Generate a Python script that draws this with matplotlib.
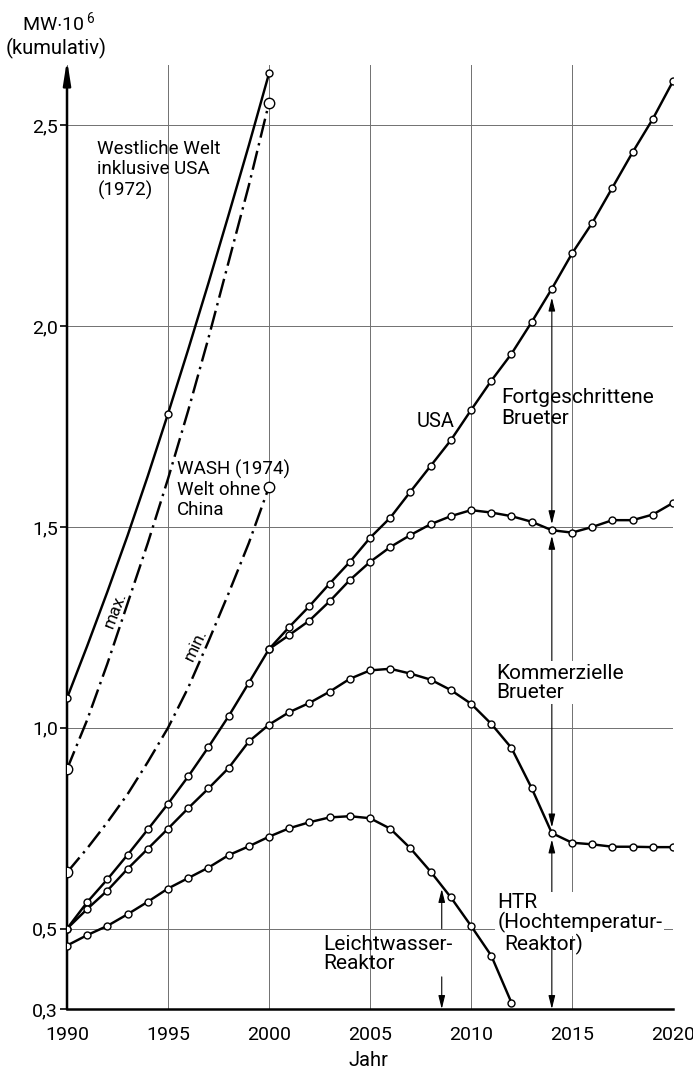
import matplotlib
matplotlib.use("Agg")
import matplotlib.pyplot as plt
import numpy as np

plt.rcParams['font.family'] = ['Roboto', 'DejaVu Sans']
plt.rcParams['mathtext.fontset'] = 'custom'
plt.rcParams['mathtext.rm'] = 'Roboto'

# Jahreswerte, MW*10^6 kumulativ
years = np.arange(1990, 2021)
usa = [0.50, 0.566, 0.623, 0.684, 0.747, 0.811, 0.879, 0.952, 1.029, 1.112,
       1.196, 1.251, 1.303, 1.359, 1.413, 1.473, 1.523, 1.588, 1.652, 1.716,
       1.791, 1.864, 1.931, 2.010, 2.093, 2.181, 2.257, 2.345, 2.433, 2.516,
       2.610]

years_fb = np.arange(2000, 2021)
fortg_brueter = [1.196, 1.231, 1.267, 1.315, 1.368, 1.413, 1.450, 1.480, 1.507,
                 1.527, 1.542, 1.536, 1.527, 1.513, 1.492, 1.486, 1.500, 1.517,
                 1.517, 1.531, 1.560]

komm_brueter = [0.50, 0.549, 0.595, 0.649, 0.699, 0.749, 0.800, 0.849, 0.900,
                0.966, 1.008, 1.039, 1.062, 1.090, 1.122, 1.143, 1.147, 1.135,
                1.120, 1.094, 1.060, 1.010, 0.950, 0.850, 0.738, 0.714, 0.710,
                0.704, 0.704, 0.703, 0.703]

years_lwr = np.arange(1990, 2013)
leichtwasser = [0.458, 0.484, 0.507, 0.536, 0.567, 0.600, 0.626, 0.652, 0.683,
                0.705, 0.729, 0.750, 0.765, 0.777, 0.780, 0.775, 0.749, 0.700,
                0.642, 0.578, 0.507, 0.433, 0.316]

# Prognosen 1990-2000
years_w = np.arange(1990, 2001)
westl_welt = [1.074, 1.204, 1.339, 1.479, 1.627, 1.782, 1.942, 2.107, 2.277,
              2.450, 2.629]
wash_max = [0.897, 1.02, 1.16, 1.31, 1.46, 1.62, 1.79, 1.97, 2.16, 2.35, 2.556]
wash_min = [0.640, 0.70, 0.765, 0.835, 0.915, 1.00, 1.10, 1.215, 1.335, 1.46, 1.600]

xticks = [1990, 1995, 2000, 2005, 2010, 2015, 2020]
yticks = [0.3, 0.5, 1.0, 1.5, 2.0, 2.5]
ylabels = ['0,3', '0,5', '1,0', '1,5', '2,0', '2,5']

fig = plt.figure(figsize=(6.93, 10.7), dpi=100)
ax = fig.add_axes([0.0967, 0.0570, 0.8745, 0.8822])
ax.set_xlim(1990, 2020)
ax.set_ylim(0.3, 2.65)

ax.set_xticks(xticks)
ax.set_yticks(yticks)
ax.set_yticklabels(ylabels)
ax.grid(True, color='#707070', lw=0.7)
ax.set_axisbelow(True)
ax.tick_params(axis='x', length=0, pad=12, labelsize=14)
ax.tick_params(axis='y', length=5, width=1.2, pad=1.5, labelsize=14)
for s in ['top', 'right', 'left']:
    ax.spines[s].set_visible(False)
ax.spines['bottom'].set_linewidth(1.8)

# y-Achse mit Pfeil
ax.annotate('', xy=(1990, 2.663), xytext=(1990, 0.3), annotation_clip=False,
            arrowprops=dict(arrowstyle='-|>,head_length=1.4,head_width=0.22',
                            mutation_scale=10, lw=1.8, color='black',
                            shrinkA=0, shrinkB=0))

mk = dict(marker='o', ms=5, mfc='white', mec='black', mew=1.0)
lw = 1.75
dashdot = (0, (8, 2.3, 1, 2.3))

ax.plot(years, usa, color='black', lw=lw, zorder=4, **mk)
ax.plot(years_fb, fortg_brueter, color='black', lw=lw, zorder=4, **mk)
ax.plot(years, komm_brueter, color='black', lw=lw, zorder=4, **mk)
ax.plot(years_lwr, leichtwasser, color='black', lw=lw, zorder=4, **mk)

ax.plot(years_w, westl_welt, color='black', lw=lw, zorder=4,
        markevery=[0, 5, 10], **mk)
big = dict(mk, ms=7.5)
ax.plot(years_w, wash_max, color='black', lw=lw, ls=dashdot, zorder=4,
        markevery=[0, 10], **big)
ax.plot(years_w, wash_min, color='black', lw=lw, ls=dashdot, zorder=4,
        markevery=[0, 10], **big)


def dim(x, y_from, y_to, style='-|>'):
    ax.annotate('', xy=(x, y_to), xytext=(x, y_from), annotation_clip=False,
                arrowprops=dict(arrowstyle=style + ',head_length=0.8,head_width=0.2',
                                mutation_scale=10, lw=0.8, color='black',
                                shrinkA=0, shrinkB=0), zorder=2.5)


# Bemassungspfeile bei 2014
i14 = list(years).index(2014)
j14 = list(years_fb).index(2014)
dim(2014, fortg_brueter[j14] + 0.015, usa[i14] - 0.022, '<|-|>')
dim(2014, fortg_brueter[j14] - 0.014, komm_brueter[i14] + 0.014, '<|-|>')
dim(2014, komm_brueter[i14] - 0.016, 0.3, '<|-|>')

# Bemassungspfeile Leichtwasser
x_lw = 2008.55
dim(x_lw, 0.5, np.interp(x_lw, years_lwr, leichtwasser) - 0.008)
dim(x_lw, 0.38, 0.3)

white = dict(facecolor='white', edgecolor='none', pad=1.5)
fs = 13.5
fr = 15
ax.text(1991.5, 2.463, 'Westliche Welt\ninklusive USA\n(1972)', fontsize=fs,
        va='top', ha='left', linespacing=1.15)
ax.text(1995.45, 1.667, 'WASH (1974)\nWelt ohne\nChina', fontsize=fs,
        va='top', ha='left', linespacing=1.15)
ax.text(2007.3, 1.786, 'USA', fontsize=14.5, va='top', ha='left')
ax.text(2011.5, 1.845, 'Fortgeschrittene\nBrueter', fontsize=fr,
        va='top', ha='left', linespacing=1.08)
ax.text(2011.27, 1.16, 'Kommerzielle\nBrueter', fontsize=fr, va='top',
        ha='left', linespacing=1.05, bbox=white, zorder=3)
ax.text(2011.3, 0.588, 'HTR\n(Hochtemperatur-', fontsize=fr, va='top',
        ha='left', linespacing=1.0, bbox=white, zorder=3)
ax.text(2011.63, 0.488, 'Reaktor)', fontsize=fr, va='top', ha='left')
ax.text(2002.7, 0.484, 'Leichtwasser-\nReaktor', fontsize=fr, va='top',
        ha='left', linespacing=1.0)

ax.text(1992.38, 1.293, 'max.', fontsize=12.5, rotation=69, ha='center',
        va='center', rotation_mode='anchor')
ax.text(1996.39, 1.206, 'min.', fontsize=12.5, rotation=65, ha='center',
        va='center', rotation_mode='anchor')

fig.text(22 / 693, 1 - 31 / 1070, r'MW$\cdot$10$^{\,6}$', fontsize=14,
         ha='left', va='baseline')
fig.text(56 / 693, 1 - 48 / 1070, '(kumulativ)', fontsize=14.5, ha='center',
         va='center')
fig.text(368 / 693, 1 - 1060 / 1070, 'Jahr', fontsize=14.5, ha='center',
         va='center')

fig.savefig('out.png', dpi=100)
